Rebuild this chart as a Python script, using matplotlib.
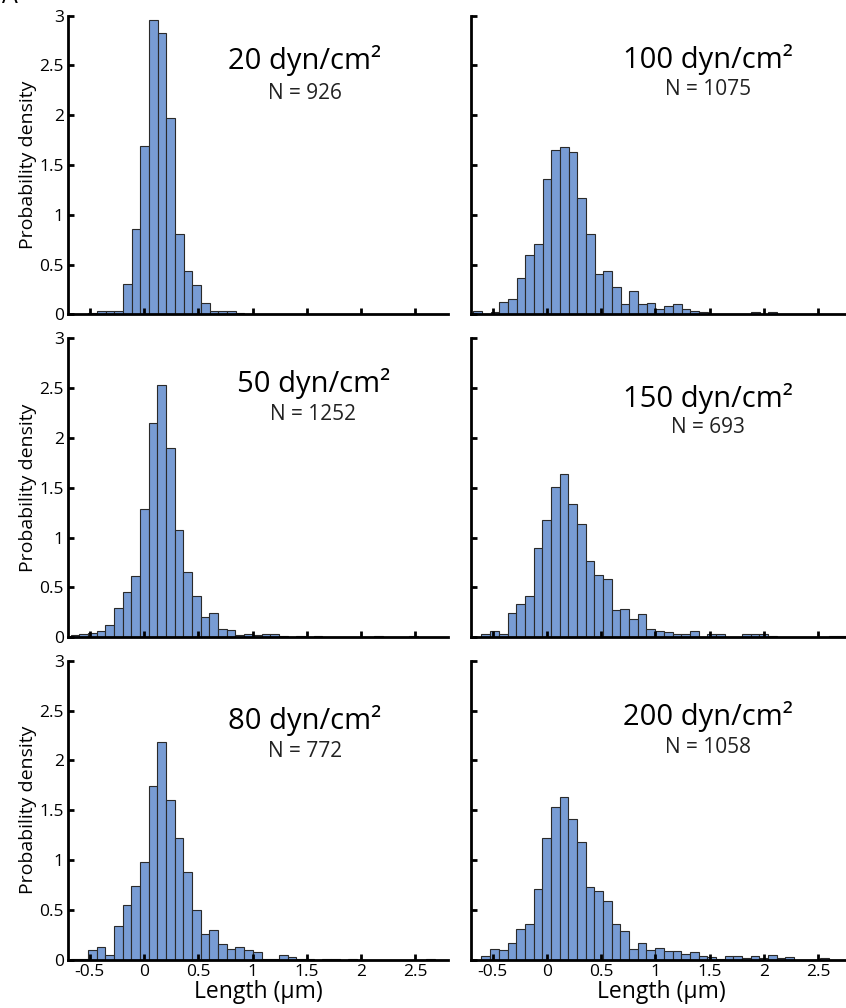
import numpy as np
import matplotlib.pyplot as plt

plt.rcParams['font.family'] = ['Open Sans', 'DejaVu Sans']

# bin width (um) shared by all histograms, first bin edge per panel
bin_width = 0.08

shear = ["20", "100", "50", "150", "80", "200"]
counts_n = [926, 1075, 1252, 693, 772, 1058]
first_edge = [-0.674, -0.680, -0.677, -0.603, -0.677, -0.603]

# probability density per bin
dens_20 = [0, 0, 0.012, 0.035, 0.035, 0.035, 0.30, 0.86, 1.69, 2.96, 2.83,
           1.97, 0.81, 0.43, 0.29, 0.11, 0.035, 0.035, 0.035, 0.01]
dens_100 = [0.033, 0, 0.02, 0.127, 0.15, 0.36, 0.60, 0.71, 1.36, 1.65, 1.68,
            1.63, 1.17, 0.81, 0.40, 0.44, 0.27, 0.107, 0.23, 0.107, 0.117,
            0.054, 0.084, 0.10, 0.057, 0.033, 0.02, 0, 0, 0, 0, 0, 0.02, 0, 0.02]
dens_50 = [0.017, 0.027, 0.044, 0.064, 0.118, 0.296, 0.45, 0.61, 1.29, 2.15,
           2.53, 1.90, 1.075, 0.655, 0.413, 0.205, 0.242, 0.08, 0.07, 0.017,
           0.027, 0.017, 0.027, 0.027, 0.01, 0, 0.01, 0, 0.01, 0, 0, 0, 0, 0,
           0, 0.01, 0, 0, 0, 0.01]
dens_150 = [0.03, 0.064, 0.03, 0.245, 0.33, 0.41, 0.89, 1.18, 1.51, 1.64,
            1.34, 1.14, 0.765, 0.625, 0.584, 0.272, 0.282, 0.178, 0.228, 0.08,
            0.06, 0.047, 0.03, 0.03, 0.064, 0, 0.03, 0.03, 0, 0, 0.03, 0.03,
            0.03, 0.01, 0, 0, 0, 0, 0, 0, 0.01, 0.01]
dens_80 = [0.01, 0.01, 0.094, 0.124, 0.047, 0.335, 0.546, 0.74, 0.98, 1.74,
           2.19, 1.60, 1.225, 0.884, 0.495, 0.258, 0.30, 0.154, 0.107, 0.124,
           0.094, 0.077, 0.01, 0.01, 0.044, 0.03, 0.01, 0.01, 0, 0.01, 0.01,
           0, 0.01, 0, 0, 0, 0, 0, 0, 0, 0, 0.01]
dens_200 = [0.033, 0.107, 0.094, 0.167, 0.307, 0.358, 0.709, 1.217, 1.53,
            1.63, 1.41, 1.177, 0.73, 0.686, 0.589, 0.358, 0.288, 0.107, 0.167,
            0.097, 0.12, 0.084, 0.084, 0.057, 0.074, 0.037, 0.023, 0.007, 0.04,
            0.037, 0.017, 0.037, 0.017, 0.05, 0.017, 0.023, 0, 0, 0, 0.017]
densities = [dens_20, dens_100, dens_50, dens_150, dens_80, dens_200]

# label anchor (data coords): title y, N y
label_x = [1.48, 1.48, 1.56, 1.48, 1.48, 1.48]
title_y = [2.55, 2.56, 2.55, 2.40, 2.40, 2.44]
n_y = [2.22, 2.26, 2.24, 2.11, 2.09, 2.13]

x_ticks = [-0.5, 0, 0.5, 1, 1.5, 2, 2.5]
x_ticklabels = ["-0.5", "0", "0.5", "1", "1.5", "2", "2.5"]
y_ticks = [0, 0.5, 1, 1.5, 2, 2.5, 3]
y_ticklabels = ["0", "0.5", "1", "1.5", "2", "2.5", "3"]

fig = plt.figure(figsize=(8.46, 10.08), dpi=100)
lefts = [0.0804, 0.5567]
bottoms = [0.6882, 0.368, 0.0481]

for i in range(6):
    row, col = divmod(i, 2)
    ax = fig.add_axes([lefts[col], bottoms[row], 0.449, 0.2962])
    d = densities[i]
    edges = first_edge[i] + bin_width * np.arange(len(d))
    ax.bar(edges, d, width=bin_width, align='edge', color='#789CD4',
           edgecolor='#2a2a2a', linewidth=0.8)

    ax.set_xlim(-0.7, 2.8)
    ax.set_ylim(0, 3)
    for s in ['top', 'right']:
        ax.spines[s].set_visible(False)
    for s in ['left', 'bottom']:
        ax.spines[s].set_linewidth(2.0)
    ax.tick_params(direction='in', length=4, width=2.0, labelsize=12.5, pad=3)
    ax.set_xticks(x_ticks)
    ax.set_yticks(y_ticks)
    if row == 2:
        ax.set_xticklabels(x_ticklabels)
        ax.set_xlabel("Length (µm)", fontsize=16.5, labelpad=0)
    else:
        ax.set_xticklabels([])
    if col == 0:
        ax.set_yticklabels(y_ticklabels)
        ax.set_ylabel("Probability density", fontsize=14, labelpad=2)
    else:
        ax.set_yticklabels([])

    ax.text(label_x[i], title_y[i], shear[i] + " dyn/cm²", fontsize=21,
            ha='center', va='center')
    ax.text(label_x[i], n_y[i], "N = %d" % counts_n[i], fontsize=15,
            ha='center', va='center', color='#222222')

fig.text(0.012, 1 - 3 / 1008, "A", fontsize=18, ha='center', va='baseline')

fig.savefig("out.png", dpi=100)
